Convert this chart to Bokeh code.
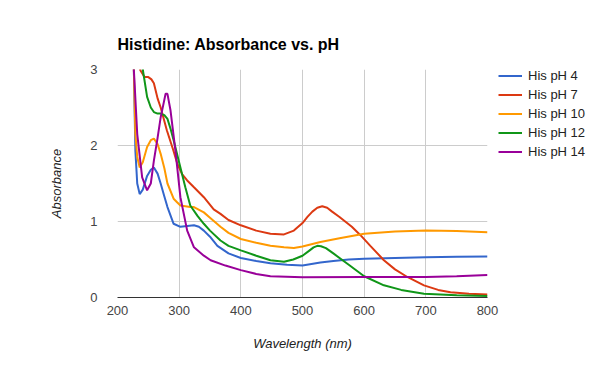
from bokeh.plotting import figure
from bokeh.models import Range1d, FixedTicker, Legend, LegendItem
from bokeh.embed import file_html
from bokeh.resources import INLINE

# ---- data ----
ph4_nm = [224, 226.5, 229, 232, 236, 241, 248, 254, 259, 265, 270, 276, 281, 291, 302, 313, 324, 332, 340, 350, 362, 380, 400, 425, 448, 475, 500, 529, 550, 575, 600, 650, 700, 750, 800]
ph4_a  = [3.6, 3.0, 1.93, 1.5, 1.36, 1.42, 1.6, 1.68, 1.71, 1.63, 1.5, 1.33, 1.19, 0.97, 0.93, 0.94, 0.95, 0.93, 0.88, 0.8, 0.68, 0.58, 0.52, 0.48, 0.45, 0.43, 0.42, 0.46, 0.48, 0.5, 0.51, 0.52, 0.53, 0.535, 0.54]

ph7_nm = [232, 237, 244, 250, 255, 259, 265, 270, 280, 290, 297, 305, 313, 324, 340, 356, 367, 380, 400, 425, 448, 470, 486, 500, 508, 516, 524, 532, 540, 548, 560, 580, 594, 610, 632, 650, 670, 697, 720, 740, 770, 800]
ph7_a  = [3.4, 2.99, 2.9, 2.9, 2.87, 2.82, 2.62, 2.5, 2.2, 1.95, 1.76, 1.62, 1.54, 1.45, 1.32, 1.16, 1.1, 1.02, 0.95, 0.88, 0.84, 0.83, 0.88, 0.98, 1.06, 1.13, 1.18, 1.2, 1.18, 1.13, 1.06, 0.93, 0.82, 0.68, 0.49, 0.37, 0.27, 0.16, 0.1, 0.07, 0.05, 0.04]

ph10_nm = [224, 226.5, 229, 232, 236, 241, 248, 254, 259, 265, 270, 276, 281, 291, 297, 302, 318, 324, 340, 350, 367, 380, 400, 425, 448, 470, 486, 500, 529, 560, 600, 650, 700, 750, 800]
ph10_a  = [3.6, 3.0, 2.15, 1.85, 1.71, 1.78, 1.98, 2.07, 2.09, 2.02, 1.89, 1.7, 1.5, 1.3, 1.25, 1.21, 1.19, 1.19, 1.12, 1.05, 0.93, 0.85, 0.77, 0.72, 0.68, 0.66, 0.65, 0.67, 0.73, 0.78, 0.84, 0.87, 0.88, 0.875, 0.86]

ph12_nm = [238, 241, 248, 254, 259, 265, 270, 276, 281, 286, 291, 302, 310, 318, 330, 340, 350, 367, 380, 400, 425, 448, 470, 485, 500, 510, 518, 524, 530, 538, 550, 575, 600, 632, 660, 697, 750, 800]
ph12_a  = [3.3, 3.0, 2.64, 2.5, 2.44, 2.42, 2.42, 2.4, 2.35, 2.22, 2.07, 1.71, 1.45, 1.21, 1.07, 0.97, 0.88, 0.75, 0.68, 0.62, 0.55, 0.49, 0.47, 0.5, 0.55, 0.61, 0.66, 0.68, 0.675, 0.65, 0.58, 0.43, 0.28, 0.16, 0.1, 0.05, 0.03, 0.02]

ph14_nm = [224, 226.5, 232, 240, 248, 254, 259, 265, 270, 278, 281, 286, 294, 302, 313, 324, 340, 351, 375, 400, 425, 448, 500, 600, 700, 750, 800]
ph14_a  = [3.6, 3.0, 2.15, 1.58, 1.41, 1.5, 1.8, 2.1, 2.37, 2.68, 2.68, 2.46, 1.93, 1.32, 0.88, 0.66, 0.55, 0.49, 0.42, 0.36, 0.31, 0.28, 0.265, 0.27, 0.27, 0.28, 0.295]

series_labels = ["His pH 4", "His pH 7", "His pH 10", "His pH 12", "His pH 14"]
series_x = [ph4_nm, ph7_nm, ph10_nm, ph12_nm, ph14_nm]
series_y = [ph4_a, ph7_a, ph10_a, ph12_a, ph14_a]
colors = ["#3366cc", "#dc3912", "#ff9900", "#109618", "#990099"]

x_ticks = [200, 300, 400, 500, 600, 700, 800]
y_ticks = [0, 1, 2, 3]

FONT = "Liberation Sans"

p = figure(width=600, height=367, output_backend="svg", toolbar_location=None,
           x_range=Range1d(200, 800), y_range=Range1d(0, 3),
           min_border_left=117, min_border_right=113, min_border_top=69, min_border_bottom=70,
           frame_width=370, frame_height=228)

p.title.text = "Histidine: Absorbance vs. pH"
p.title.text_font = FONT
p.title.text_font_size = "16px"
p.title.text_font_style = "bold"
p.title.text_color = "#000000"
p.title.align = "left"
p.title.vertical_align = "top"
p.title.standoff = 30

p.outline_line_color = None
p.background_fill_color = "white"
p.border_fill_color = "white"

p.xgrid.ticker = FixedTicker(ticks=x_ticks)
p.ygrid.ticker = FixedTicker(ticks=y_ticks)
p.xgrid.grid_line_color = "#cccccc"
p.ygrid.grid_line_color = "#cccccc"

for ax in (p.xaxis[0], p.yaxis[0]):
    ax.major_tick_line_color = None
    ax.minor_tick_line_color = None
    ax.major_label_text_font = FONT
    ax.major_label_text_font_size = "13px"
    ax.major_label_text_color = "#444444"
    ax.axis_label_text_font = FONT
    ax.axis_label_text_font_size = "13px"
    ax.axis_label_text_font_style = "italic"
    ax.axis_label_text_color = "#222222"

p.xaxis[0].ticker = FixedTicker(ticks=x_ticks)
p.yaxis[0].ticker = FixedTicker(ticks=y_ticks)
p.xaxis[0].axis_line_color = "#333333"
p.yaxis[0].axis_line_color = None
p.xaxis[0].axis_label = "Wavelength (nm)"
p.yaxis[0].axis_label = "Absorbance"
p.xaxis[0].major_label_standoff = 2
p.yaxis[0].major_label_standoff = 14
p.xaxis[0].axis_label_standoff = 18
p.yaxis[0].axis_label_standoff = 23

items = []
for lab, xs, ys, c in zip(series_labels, series_x, series_y, colors):
    r = p.line(xs, ys, line_color=c, line_width=2)
    items.append(LegendItem(label=lab, renderers=[r]))

legend = Legend(items=items, location=(11, 136), padding=0, margin=0, spacing=0,
                glyph_width=24, glyph_height=19, label_height=19, label_standoff=6,
                label_text_font=FONT, label_text_font_size="13px", label_text_color="#222222",
                border_line_color=None, background_fill_alpha=0)
p.add_layout(legend, "right")

open("out.html", "w").write(file_html(p, INLINE))
